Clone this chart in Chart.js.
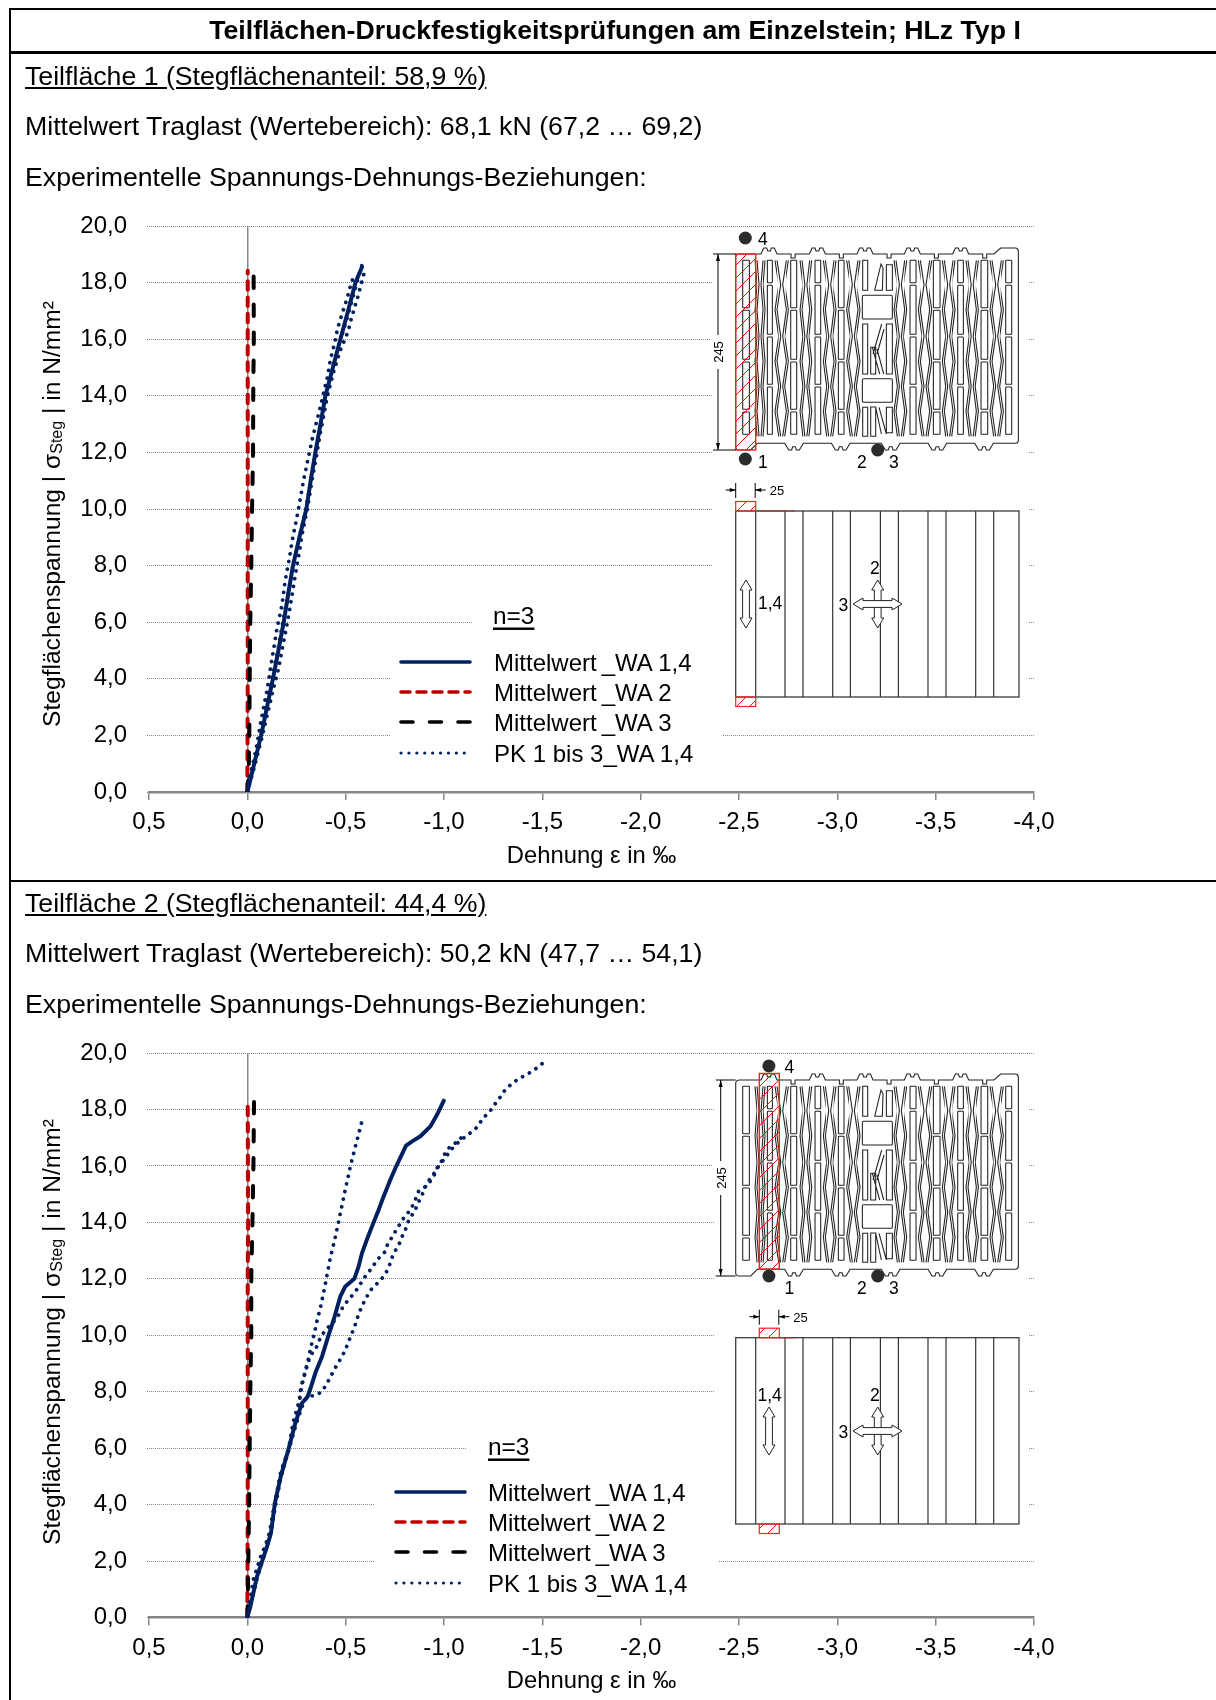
<!DOCTYPE html>
<html lang="de">
<head>
<meta charset="utf-8">
<title>Teilflächen-Druckfestigkeitsprüfungen</title>
<script src="https://cdn.jsdelivr.net/npm/chart.js@4"></script>
<style>
  html, body { margin: 0; padding: 0; background: #fff; }
  #page { position: relative; width: 1216px; height: 1700px; overflow: hidden; font-family: "Liberation Sans", Arial, sans-serif; color: #000; }
  canvas { position: absolute; left: 0; }
  #overlay { position: absolute; left: 0; top: 0; }
  .rule { position: absolute; background: #000; }
  .txt { position: absolute; left: 25px; font-size: 26.7px; line-height: 30px; white-space: nowrap; }
</style>
</head>
<body>
<div id="page">
  <canvas id="chart1" width="1216" height="694" style="top:186px"></canvas>
  <canvas id="chart2" width="1216" height="687" style="top:1013px"></canvas>
  <svg id="overlay" width="1216" height="1700" xmlns="http://www.w3.org/2000/svg"></svg>

  <div class="rule" style="left:9px;top:8px;width:1207px;height:2px"></div>
  <div class="rule" style="left:9px;top:51px;width:1207px;height:3px"></div>
  <div class="rule" style="left:9px;top:880px;width:1207px;height:2px"></div>
  <div class="rule" style="left:9px;top:8px;width:2px;height:1692px"></div>

  <div class="txt" style="left:0;width:1230px;text-align:center;top:15px;font-weight:bold">Teilflächen-Druckfestigkeitsprüfungen am Einzelstein; HLz Typ I</div>
  <div class="txt" style="top:61px;text-decoration:underline">Teilfläche 1 (Stegflächenanteil: 58,9 %)</div>
  <div class="txt" style="top:111px">Mittelwert Traglast (Wertebereich): 68,1 kN (67,2 … 69,2)</div>
  <div class="txt" style="top:162px">Experimentelle Spannungs-Dehnungs-Beziehungen:</div>
  <div class="txt" style="top:888px;text-decoration:underline">Teilfläche 2 (Stegflächenanteil: 44,4 %)</div>
  <div class="txt" style="top:938px">Mittelwert Traglast (Wertebereich): 50,2 kN (47,7 … 54,1)</div>
  <div class="txt" style="top:989px">Experimentelle Spannungs-Dehnungs-Beziehungen:</div>
</div>

<script>
const legendNames = ["Mittelwert_WA 1,4", "Mittelwert_WA 2", "Mittelwert_WA 3", "PK 1 bis 3_WA 1,4"];
const yTitle = "Stegflächenspannung | σ";
const xTitle = "Dehnung ε in ‰";

// Teilfläche 1, Dehnung (x) und Spannung (y)
const mean1Y = [0, 1, 2, 3, 4, 5, 6, 7, 8, 9, 10, 11, 12, 13, 14, 15, 16, 17, 18, 18.55];
const mean1X = [0, -0.035, -0.07, -0.1, -0.13, -0.158, -0.185, -0.208, -0.232, -0.265, -0.3, -0.322, -0.346, -0.372, -0.397, -0.435, -0.473, -0.512, -0.55, -0.583];
const wa2_1Y = [0, 4, 8, 12, 16, 18.42];
const wa2_1X = [0, -0.002, -0.002, -0.002, -0.002, -0.002];
const wa3_1Y = [0, 0.6, 2, 4, 6, 8, 10, 12, 14, 16, 18.27];
const wa3_1X = [0, -0.007, -0.01, -0.012, -0.015, -0.02, -0.024, -0.029, -0.03, -0.033, -0.032];
const pkA1Y = [0, 0.54, 1.37, 2.54, 3.6, 4.73, 5.79, 6.6, 7.49, 8.26, 8.85, 9.85, 11.02, 12.44, 13.6, 14.73, 15.27, 15.83, 16.38, 16.9, 17.44, 18, 18.3];
const pkA1X = [0, -0.012, -0.041, -0.07, -0.1, -0.126, -0.151, -0.176, -0.193, -0.214, -0.227, -0.256, -0.286, -0.329, -0.371, -0.409, -0.422, -0.443, -0.459, -0.482, -0.507, -0.529, -0.546];
const pkB1Y = [0, 1.02, 1.95, 2.78, 3.6, 4.37, 5.19, 5.79, 6.6, 7.67, 8.55, 9.08, 10.08, 11.02, 11.85, 12.9, 14.03, 14.85, 15.62, 16.12, 16.4, 16.68, 16.94, 17.2, 17.47, 17.74, 18, 18.29];
const pkB1X = [0, -0.041, -0.075, -0.103, -0.131, -0.159, -0.181, -0.198, -0.219, -0.244, -0.266, -0.278, -0.307, -0.329, -0.351, -0.375, -0.408, -0.439, -0.473, -0.504, -0.517, -0.527, -0.538, -0.549, -0.561, -0.571, -0.581, -0.592];
const pkC1Y = [0, 1, 2, 3, 4, 5, 6, 7, 8, 9, 10, 11, 12, 13, 14, 15, 16, 17, 18, 18.62];
const pkC1X = [0, -0.03, -0.062, -0.09, -0.125, -0.155, -0.18, -0.208, -0.235, -0.265, -0.298, -0.322, -0.35, -0.38, -0.405, -0.44, -0.475, -0.518, -0.557, -0.583];

// Teilfläche 2
const mean2Y = [0, 0.38, 1.45, 2.51, 2.99, 4.05, 5, 5.98, 6.89, 7.6, 7.83, 8.18, 8.67, 9.25, 10.02, 10.55, 11.38, 11.73, 12, 12.44, 12.91, 13.39, 14, 14.45, 14.92, 15.51, 15.97, 16.72, 16.87, 17.05, 17.4, 17.82, 18.31];
const mean2X = [0, -0.015, -0.049, -0.1, -0.12, -0.14, -0.17, -0.21, -0.244, -0.278, -0.307, -0.324, -0.346, -0.38, -0.414, -0.439, -0.473, -0.498, -0.544, -0.566, -0.583, -0.608, -0.642, -0.668, -0.693, -0.727, -0.756, -0.807, -0.838, -0.88, -0.931, -0.965, -0.999];
const wa2_2Y = [0, 4, 8, 12, 14, 16, 18.35];
const wa2_2X = [0, -0.002, -0.002, -0.002, -0.004, -0.003, -0.002];
const wa3_2Y = [0, 0.4, 2, 4, 6, 8, 10, 12, 14, 16, 18.27];
const wa3_2X = [0, -0.002, -0.005, -0.009, -0.012, -0.015, -0.02, -0.02, -0.026, -0.031, -0.034];
const pkA2Y = [0, 0.38, 1.33, 2.16, 2.99, 4.05, 5.17, 5.98, 6.89, 7.6, 7.96, 8.49, 9.07, 9.6, 10.16, 10.47, 11.02, 11.83, 12.68, 13.5, 14.33, 15.16, 15.99, 16.81, 17.64];
const pkA2X = [0, -0.012, -0.041, -0.075, -0.112, -0.139, -0.174, -0.21, -0.232, -0.261, -0.27, -0.286, -0.307, -0.324, -0.344, -0.353, -0.373, -0.397, -0.42, -0.448, -0.473, -0.498, -0.524, -0.554, -0.585];
const pkB2Y = [0, 0.5, 1.45, 2.4, 3.1, 4.05, 5, 5.98, 6.89, 7.6, 7.83, 7.87, 8, 8.24, 8.5, 8.75, 8.99, 9.25, 9.51, 9.78, 10.28, 10.79, 11.08, 11.58, 11.77, 11.99, 12.18, 12.46, 12.73, 13, 13.23, 13.5, 13.74, 14.01, 14.51, 14.8, 15.1, 15.4, 15.72, 15.99, 16.22, 16.46, 16.72, 17.02, 17.19, 17.37, 17.6, 17.82, 18.03, 18.28, 18.49, 18.73, 18.91, 19.09, 19.21, 19.35, 19.53, 19.7];
const pkB2X = [0, -0.018, -0.052, -0.095, -0.122, -0.145, -0.172, -0.212, -0.25, -0.285, -0.307, -0.346, -0.38, -0.4, -0.422, -0.439, -0.459, -0.482, -0.5, -0.515, -0.544, -0.568, -0.586, -0.624, -0.651, -0.682, -0.703, -0.722, -0.734, -0.753, -0.772, -0.787, -0.804, -0.817, -0.858, -0.876, -0.897, -0.914, -0.948, -0.973, -0.999, -1.024, -1.054, -1.105, -1.138, -1.168, -1.19, -1.216, -1.245, -1.267, -1.292, -1.314, -1.346, -1.378, -1.414, -1.448, -1.484, -1.512];
const pkC2Y = [0, 1.33, 2.16, 2.99, 4.05, 5.17, 5.98, 6.89, 7.6, 8.07, 8.24, 8.48, 8.78, 9.01, 9.31, 9.55, 9.78, 10.02, 10.26, 10.61, 10.9, 11.17, 11.58, 12.09, 12.32, 12.54, 12.79, 12.97, 13.25, 13.5, 13.77, 14, 14.21, 14.42, 14.69, 15.1, 15.31, 15.54, 15.79, 15.99, 16.22, 16.48, 16.72, 16.91, 17.19];
const pkC2X = [0, -0.03, -0.068, -0.117, -0.14, -0.17, -0.213, -0.239, -0.266, -0.27, -0.275, -0.286, -0.299, -0.307, -0.324, -0.35, -0.363, -0.38, -0.408, -0.456, -0.477, -0.504, -0.553, -0.6, -0.626, -0.648, -0.675, -0.702, -0.714, -0.739, -0.76, -0.782, -0.8, -0.827, -0.848, -0.871, -0.914, -0.939, -0.96, -0.968, -0.993, -1.007, -1.036, -1.08, -1.104];

const navy = "#002060", red = "#C00000", black = "#000000", gray = "#868686";
const lineStyles = [
  { color: navy, width: 4, dash: [] },
  { color: red, width: 4, dash: [8.5, 7.7] },
  { color: black, width: 4, dash: [11.5, 16.5] },
  { color: navy, width: 3.8, dash: [0.01, 7.8] }
];

function points(xs, ys) {
  return xs.map((x, i) => ({ x: x, y: ys[i] }));
}

function lineData(label, xs, ys, style) {
  return {
    label: label,
    data: points(xs, ys),
    showLine: true,
    pointRadius: 0,
    borderColor: style.color,
    borderWidth: style.width,
    borderDash: style.dash,
    borderCapStyle: "round",
    borderJoinStyle: "round",
    tension: 0
  };
}

function makeChart(id, sets, xBottomHeight, titlePad) {
  const comma = v => Number(v).toFixed(1).replace(".", ",");
  return new Chart(document.getElementById(id), {
    type: "scatter",
    data: {
      datasets: [
        lineData(legendNames[0], sets[0][0], sets[0][1], lineStyles[0]),
        lineData(legendNames[3], sets[3][0], sets[3][1], lineStyles[3]),
        lineData(legendNames[3], sets[4][0], sets[4][1], lineStyles[3]),
        lineData(legendNames[3], sets[5][0], sets[5][1], lineStyles[3]),
        lineData(legendNames[2], sets[2][0], sets[2][1], lineStyles[2]),
        lineData(legendNames[1], sets[1][0], sets[1][1], lineStyles[1])
      ]
    },
    options: {
      responsive: false,
      animation: false,
      layout: { padding: { top: 40, right: 182, left: 0, bottom: 0 } },
      plugins: { legend: { display: false }, tooltip: { enabled: false } },
      scales: {
        x: {
          type: "linear",
          reverse: true,
          min: -4,
          max: 0.5,
          afterFit: s => { s.height = xBottomHeight; },
          ticks: {
            stepSize: 0.5,
            autoSkip: false,
            maxRotation: 0,
            padding: 8,
            color: "#000",
            font: { family: "'Liberation Sans'", size: 24 },
            callback: comma
          },
          grid: {
            color: c => (c.tick && Math.abs(c.tick.value) < 1e-6 ? gray : "transparent"),
            lineWidth: 1.5,
            tickColor: gray,
            tickLength: 8,
            tickWidth: 1.5
          },
          border: { display: true, color: gray, width: 2.5 },
          title: {
            display: true,
            text: xTitle,
            color: "#000",
            font: { family: "'Liberation Sans'", size: 23.8 },
            padding: { top: 0, bottom: titlePad }
          }
        },
        y: {
          min: 0,
          max: 20,
          afterFit: s => { s.width = 149; },
          ticks: {
            stepSize: 2,
            padding: 20,
            color: "#000",
            font: { family: "'Liberation Sans'", size: 24 },
            callback: comma
          },
          grid: { color: gray, lineWidth: 1, tickLength: 2, tickColor: gray, tickBorderDash: [1, 1] },
          border: { display: false, dash: [1, 1] }
        }
      }
    }
  });
}

makeChart("chart1", [[mean1X, mean1Y], [wa2_1X, wa2_1Y], [wa3_1X, wa3_1Y], [pkA1X, pkA1Y], [pkB1X, pkB1Y], [pkC1X, pkC1Y]], 88, 9.5);
makeChart("chart2", [[mean2X, mean2Y], [wa2_2X, wa2_2Y], [wa3_2X, wa3_2Y], [pkA2X, pkA2Y], [pkB2X, pkB2Y], [pkC2X, pkC2Y]], 82.5, 4.5);

// Weisse Flaechen, Legende und Steinskizzen als SVG ueber dem Diagramm
let svg = `<defs><pattern id="hatch" patternUnits="userSpaceOnUse" width="13" height="13">
  <path d="M-1,14 L14,-1 M-1,1 L1,-1 M12,14 L14,12" stroke="#ff0000" stroke-width="1" fill="none"/></pattern></defs>`;
const FONT = 'font-family="Liberation Sans"';

function rect(x, y, w, h) {
  svg += `<rect x="${x}" y="${y}" width="${w}" height="${h}" fill="#fff"/>`;
}
function text(x, y, s, size, extra) {
  svg += `<text x="${x}" y="${y}" ${FONT} font-size="${size}" dominant-baseline="central" ${extra || ""}>${s}</text>`;
}

function drawLegend(lx, tx, rows, nx, ny) {
  svg += `<text x="${nx}" y="${ny}" ${FONT} font-size="24.4" dominant-baseline="central" text-decoration="underline">n=3</text>`;
  rows.forEach((y, i) => {
    const st = lineStyles[i];
    const dash = st.dash.length ? (i === 3 ? "0.01 7.9" : i === 2 ? "12 16.5" : "9 7") : "none";
    svg += `<line x1="${lx}" x2="${lx + 69}" y1="${y}" y2="${y}" stroke="${st.color}" stroke-width="${i === 3 ? 3.2 : 3.6}" stroke-dasharray="${dash}" stroke-linecap="round"/>`;
    // im Original steht vor dem Unterstrich eine kleine Luecke
    const parts = legendNames[i].split("_");
    const gap = i === 3 ? 0 : 5;
    text(tx, y, `${parts[0]}<tspan dx="${gap}">_${parts[1]}</tspan>`, 24);
  });
}

function drawYTitle(cx, cy) {
  svg += `<text transform="translate(${cx},${cy}) rotate(-90)" ${FONT} font-size="24.6" text-anchor="middle" dominant-baseline="central">${yTitle}<tspan font-size="16" dy="5">Steg</tspan><tspan dy="-5"> | in N/mm²</tspan></text>`;
}

// Grundriss des Steins, gezeichnet in 1/3 px
function drawBrick(x0, y0) {
  const H = 568, W = 848;
  let d = `M 12,0`;
  [100, 245, 388, 530, 675].forEach(c => {
    d += ` L ${c - 24},0 L ${c - 16},-18 L ${c - 7},-18 L ${c - 4},-9 L ${c + 4},-9 L ${c + 7},-18 L ${c + 16},-18 L ${c + 24},0`;
    d += ` L ${c + 66},0 L ${c + 66},12 L ${c + 78},12 L ${c + 78},0`;
  });
  d += ` L 775,0 L 795,-18 L 838,-18 Q 848,-18 848,-8 L ${W},${H - 10} Q ${W},${H} 838,${H}`;
  [745, 605, 465, 315, 175].forEach(c => {
    d += ` L ${c + 28},${H} L ${c + 16},${H + 20} L ${c + 7},${H + 20} L ${c + 4},${H + 10} L ${c - 4},${H + 10} L ${c - 7},${H + 20} L ${c - 16},${H + 20} L ${c - 28},${H}`;
  });
  d += ` L 65,${H} L 45,${H + 20} L 10,${H + 20} Q 0,${H + 20} 0,${H + 10} L 0,10 Q 0,0 12,0 Z`;

  const rows = [19, 92, 167, 247, 322, 397, 472, 547];
  const slots = [[21, 41], [95, 110], [165, 183], [238, 255], [308, 325], [523, 541], [593, 613], [666, 683], [736, 756], [810, 828]];
  const zigzags = [[58, 88], [118, 158], [193, 228], [263, 301], [333, 373], [475, 513], [548, 588], [620, 658], [691, 728], [763, 803]];
  let body = `<path d="${d}"/>`;
  slots.forEach((s, k) => {
    const cuts = k % 2 ? [92, 247, 397] : [167, 322, 472];
    let y = 19;
    cuts.concat([547]).forEach(c => {
      body += `<rect x="${s[0]}" y="${y}" width="${s[1] - s[0]}" height="${c - y - 6}" rx="2"/>`;
      y = c + 2;
    });
  });
  zigzags.forEach(z => {
    const m = (z[0] + z[1]) / 2;
    [0, 6].forEach(off => {
      body += `<polyline points="${rows.map((y, i) => `${(i % 2 ? m - 9 : z[0]) + off},${y}`).join(" ")}"/>`;
      body += `<polyline points="${rows.map((y, i) => `${(i % 2 ? m + 9 : z[1]) - off},${y}`).join(" ")}"/>`;
    });
  });
  body += `<rect x="380" y="124" width="90" height="71" rx="4"/><rect x="380" y="374" width="90" height="71" rx="4"/>`;
  body += `<path d="M381,19 h15 v90 h-15 z M452,32 h18 v77 h-18 z M417,109 L436,30 L442,42 L440,109 z M381,210 h15 v150 h-15 z M405,360 h15 v-80 h-15 z M452,210 h18 v150 h-18 z M412,300 L438,210 M424,300 L445,225 M410,280 L432,360 M424,285 L444,360"/>`;
  body += `<path d="M381,460 h15 v87 h-15 z M452,460 h18 v76 h-18 z M405,547 h15 v-88 h-15 z M430,460 L452,540 M420,460 L437,540"/>`;
  svg += `<g transform="translate(${x0},${y0}) scale(${1 / 3})" fill="#fff" stroke="#222" stroke-width="3.2">${body}</g>`;
}

function hollowArrow(x, y1, y2) {
  svg += `<path d="M${x},${y1} l6,10 h-2.6 V${y2 - 10} h2.6 l-6,10 l-6,-10 h2.6 V${y1 + 10} h-2.6 z" fill="#fff" stroke="#222" stroke-width="1"/>`;
}
function hollowArrowH(y, x1, x2) {
  svg += `<path d="M${x1},${y} l10,-6 v2.6 H${x2 - 10} v-2.6 l10,6 l-10,6 v-2.6 H${x1 + 10} v2.6 z" fill="#fff" stroke="#222" stroke-width="1"/>`;
}
function dot(x, y) {
  svg += `<circle cx="${x}" cy="${y}" r="6.5" fill="#2b2b2b"/>`;
}

function drawInset(o) {
  const L = 735.7, R = 1019;
  const top = o.brickTop, hx = o.hatchX;
  drawBrick(L, top);
  // Schraffur Teilflaeche
  svg += `<rect x="${hx}" y="${o.hatchTop}" width="20" height="${o.hatchH}" fill="url(#hatch)" stroke="#ff2020" stroke-width="1.4"/>`;
  // Masslinie 245
  const dx = o.dimX, y1 = top, y2 = top + 196;
  svg += `<g stroke="#000" stroke-width="1"><line x1="${dx - 5}" x2="${L}" y1="${y1}" y2="${y1}"/><line x1="${dx - 5}" x2="${L}" y1="${y2}" y2="${y2}"/>
    <line x1="${dx}" x2="${dx}" y1="${y1}" y2="${y2}"/></g>`;
  svg += `<path d="M${dx},${y1} l-2,7 h4 z M${dx},${y2} l-2,-7 h4 z" fill="#000"/>`;
  svg += `<rect x="${dx - 8}" y="${(y1 + y2) / 2 - 17}" width="16" height="34" fill="#fff"/>`;
  svg += `<text transform="translate(${dx + 0.5},${(y1 + y2) / 2}) rotate(-90)" ${FONT} font-size="13" text-anchor="middle" dominant-baseline="central">245</text>`;
  // Messstellen
  dot(hx + 9.6, o.dot4); dot(hx + 9.6, o.dot1); dot(877.7, o.dot1b);
  text(o.numX, o.dot4 + 1, "4", 17.5);
  text(o.numX, o.num1, "1", 17.5);
  text(857, o.num1, "2", 17.5);
  text(889, o.num1, "3", 17.5);

  // Ansicht
  const t = o.viewTop, b = o.viewBottom;
  svg += `<rect x="${L}" y="${t}" width="${R - L}" height="${b - t}" fill="#fff" stroke="#3c3c3c" stroke-width="1.3"/>`;
  [20, 49.3, 67.3, 97, 114.7, 144.7, 162.7, 192.3, 210.3, 240, 258].forEach(v => {
    svg += `<line x1="${L + v}" x2="${L + v}" y1="${t}" y2="${b}" stroke="#333" stroke-width="1.2"/>`;
  });
  svg += `<line x1="${hx + 20}" x2="795" y1="${t}" y2="${t}" stroke="#a03030" stroke-width="1.2"/>`;
  svg += `<rect x="${hx}" y="${t - 9.5}" width="20" height="9.5" fill="url(#hatch)" stroke="#ff2020" stroke-width="1.2"/>`;
  svg += `<rect x="${hx}" y="${b}" width="20" height="9.5" fill="url(#hatch)" stroke="#ff2020" stroke-width="1.2"/>`;
  // Mass 25
  const my = t - 21;
  svg += `<g stroke="#000" stroke-width="1"><line x1="${hx}" x2="${hx}" y1="${my - 7}" y2="${my + 8}"/><line x1="${hx + 19.5}" x2="${hx + 19.5}" y1="${my - 7}" y2="${my + 8}"/>
    <line x1="${hx - 10}" x2="${hx}" y1="${my}" y2="${my}"/><line x1="${hx + 19.5}" x2="${hx + 30}" y1="${my}" y2="${my}"/></g>`;
  svg += `<path d="M${hx},${my} l-6,-2 v4 z M${hx + 19.5},${my} l6,-2 v4 z" fill="#000"/>`;
  text(hx + 34, my + 0.5, "25", 13);
  // Pfeile
  hollowArrow(o.arrowX, o.arrowTop, o.arrowTop + 48);
  text(o.labelX, o.labelY, "1,4", 17.5);
  hollowArrow(877.7, o.arrowTop, o.arrowTop + 48);
  hollowArrowH(o.arrowTop + 24, 853, 902);
  text(870, o.arrowTop - 12, "2", 17.5);
  text(838.5, o.arrowTop + 25, "3", 17.5);
}

// Teilflaeche 1
rect(713, 233, 315, 492);
rect(473, 605, 240, 40);
rect(390, 630, 333, 140);
drawYTitle(51, 514);
drawLegend(401, 494, [662, 692, 722, 753], 493, 615);
drawInset({
  brickTop: 254, hatchX: 735.7, hatchTop: 254, hatchH: 196, dimX: 718,
  numX: 758,
  dot4: 238, dot1: 459, dot1b: 450, num1: 462,
  viewTop: 511, viewBottom: 697,
  arrowX: 746, arrowTop: 580, labelX: 758, labelY: 603
});

// Teilflaeche 2
rect(714, 1060, 314, 492);
rect(467, 1430, 247, 40);
rect(374, 1475, 345, 125);
drawYTitle(51, 1332);
drawLegend(396, 488, [1492, 1522, 1552, 1583], 488, 1446);
drawInset({
  brickTop: 1080, hatchX: 759.3, hatchTop: 1073.5, hatchH: 195.5, dimX: 720.7,
  numX: 784.5,
  dot4: 1066, dot1: 1276, dot1b: 1276, num1: 1288,
  viewTop: 1337.7, viewBottom: 1524,
  arrowX: 769, arrowTop: 1407, labelX: 757.5, labelY: 1395
});

document.getElementById("overlay").innerHTML = svg;
</script>
</body>
</html>
